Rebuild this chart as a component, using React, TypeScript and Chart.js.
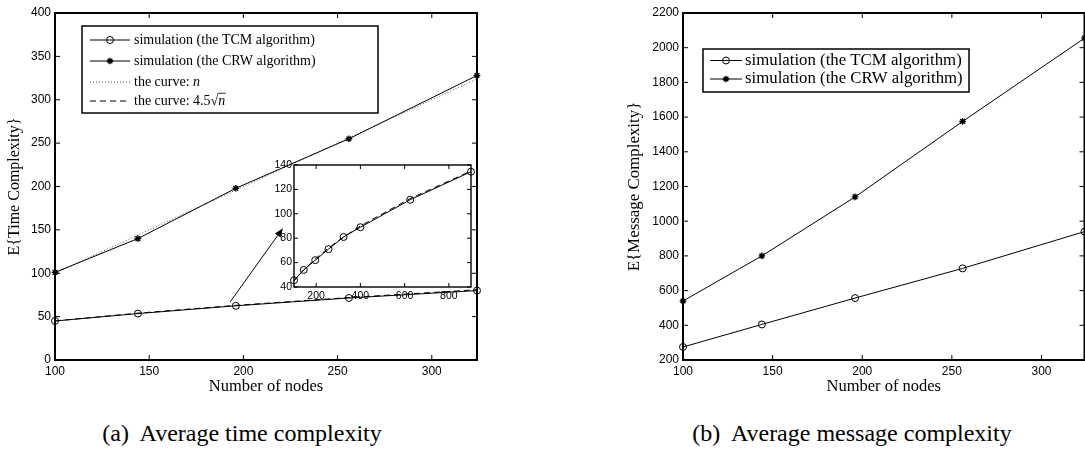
import React, { useEffect, useRef } from 'react';
import { Chart, registerables } from 'chart.js';

Chart.register(...registerables);

// ---------- data ----------
const NODES = [100, 144, 196, 256, 324];
const TIME_TCM = [45, 53.5, 62.5, 71.5, 80];
const TIME_CRW = [101, 140, 198, 255, 328];
const CURVE_N = [100, 144, 196, 256, 324];
const CURVE_SQRT = [45, 54, 63, 72, 81];

const INSET_NODES = [100, 144, 196, 256, 324, 400, 625, 900];
const INSET_TCM = [45.5, 54, 62, 71, 81, 89, 111.5, 134.5];
const INSET_SQRT = [45, 54, 63, 72, 81, 90, 112.5, 135];

const MSG_TCM = [275, 405, 557, 728, 940];
const MSG_CRW = [540, 800, 1140, 1575, 2055];

const X_TICKS = [100, 150, 200, 250, 300];
const TIME_Y_TICKS = [0, 50, 100, 150, 200, 250, 300, 350, 400];
const MSG_Y_TICKS = [200, 400, 600, 800, 1000, 1200, 1400, 1600, 1800, 2000, 2200];
const INSET_X_TICKS = [200, 400, 600, 800];
const INSET_Y_TICKS = [40, 60, 80, 100, 120, 140];

const ARROW_FROM = [193, 67];
const ARROW_TO = [221, 152];

const LABEL_TCM = 'simulation (the TCM algorithm)';
const LABEL_CRW = 'simulation (the CRW algorithm)';

const SERIF = "'Liberation Serif', 'Times New Roman', serif";
const SANS = "'Liberation Sans', Arial, Helvetica, sans-serif";

// ---------- helpers ----------
const pts = (xs: number[], ys: number[]) => xs.map((x, i) => ({ x, y: ys[i] }));

function drawMarker(ctx: CanvasRenderingContext2D, style: string, x: number, y: number, r: number, lw: number) {
  ctx.save();
  ctx.strokeStyle = '#000';
  ctx.lineWidth = lw;
  ctx.beginPath();
  if (style === 'circle') {
    ctx.arc(x, y, r, 0, Math.PI * 2);
  } else {
    for (let k = 0; k < 4; k++) {
      const a = (k * Math.PI) / 4;
      const dx = r * Math.cos(a);
      const dy = r * Math.sin(a);
      ctx.moveTo(x - dx, y - dy);
      ctx.lineTo(x + dx, y + dy);
    }
  }
  ctx.stroke();
  ctx.restore();
}

const framePlugin = {
  id: 'frame',
  beforeDraw(chart: any, _a: any, o: any) {
    if (o && o.fill) {
      const { left, top, right, bottom } = chart.chartArea;
      const ctx = chart.ctx;
      ctx.save();
      ctx.fillStyle = '#fff';
      ctx.fillRect(left, top, right - left, bottom - top);
      ctx.restore();
    }
  },
  afterDraw(chart: any, _a: any, o: any) {
    const { left, top, right, bottom } = chart.chartArea;
    const ctx = chart.ctx;
    const len = (o && o.tickLen) || 5;
    ctx.save();
    ctx.strokeStyle = '#000';
    ctx.lineWidth = 1;
    const xs = chart.scales.x;
    const ys = chart.scales.y;
    ctx.beginPath();
    xs.ticks.forEach((t: any) => {
      const p = xs.getPixelForValue(t.value);
      ctx.moveTo(p, bottom);
      ctx.lineTo(p, bottom - len);
      ctx.moveTo(p, top);
      ctx.lineTo(p, top + len);
    });
    ys.ticks.forEach((t: any) => {
      const p = ys.getPixelForValue(t.value);
      ctx.moveTo(left, p);
      ctx.lineTo(left + len, p);
      ctx.moveTo(right, p);
      ctx.lineTo(right - len, p);
    });
    ctx.stroke();
    ctx.lineWidth = (o && o.lineWidth) || 1.5;
    ctx.strokeRect(left, top, right - left, bottom - top);
    ctx.restore();
  },
};

const boxLegendPlugin = {
  id: 'boxLegend',
  afterDraw(chart: any, _a: any, o: any) {
    if (!o || !o.items) return;
    const ctx: CanvasRenderingContext2D = chart.ctx;
    ctx.save();
    const [bx, by, bw, bh] = o.box;
    ctx.fillStyle = '#fff';
    ctx.fillRect(bx, by, bw, bh);
    ctx.strokeStyle = '#000';
    ctx.lineWidth = o.lineWidth || 1.5;
    ctx.strokeRect(bx, by, bw, bh);
    o.items.forEach((it: any, i: number) => {
      const ds = chart.data.datasets[it.ds];
      const y = o.rows[i];
      ctx.save();
      ctx.strokeStyle = ds.borderColor;
      ctx.lineWidth = ds.borderWidth;
      ctx.setLineDash(ds.borderDash || []);
      ctx.beginPath();
      ctx.moveTo(o.sample[0], y);
      ctx.lineTo(o.sample[1], y);
      ctx.stroke();
      ctx.restore();
      if (ds.pointRadius > 0) {
        drawMarker(ctx, ds.pointStyle, (o.sample[0] + o.sample[1]) / 2, y, ds.pointRadius, ds.pointBorderWidth);
      }
      const parts = it.parts || [{ t: ds.label }];
      let tx = o.textX;
      ctx.fillStyle = '#000';
      ctx.textBaseline = 'middle';
      ctx.textAlign = 'left';
      parts.forEach((p: any) => {
        ctx.font = `${p.italic ? 'italic ' : ''}${o.size}px ${SERIF}`;
        ctx.fillText(p.t, tx, y);
        const w = ctx.measureText(p.t).width;
        if (p.overline) {
          ctx.save();
          ctx.strokeStyle = '#000';
          ctx.lineWidth = 0.8;
          ctx.beginPath();
          ctx.moveTo(tx - 1, y - o.size * 0.55);
          ctx.lineTo(tx + w + 0.5, y - o.size * 0.55);
          ctx.stroke();
          ctx.restore();
        }
        tx += w;
      });
    });
    ctx.restore();
  },
};

const arrowPlugin = {
  id: 'arrow',
  afterDatasetsDraw(chart: any, _a: any, o: any) {
    if (!o || !o.from) return;
    const ctx: CanvasRenderingContext2D = chart.ctx;
    const xs = chart.scales.x;
    const ys = chart.scales.y;
    const x0 = xs.getPixelForValue(o.from[0]);
    const y0 = ys.getPixelForValue(o.from[1]);
    const x1 = xs.getPixelForValue(o.to[0]);
    const y1 = ys.getPixelForValue(o.to[1]);
    const ang = Math.atan2(y1 - y0, x1 - x0);
    const hl = 9;
    const hw = 3.5;
    ctx.save();
    ctx.strokeStyle = '#000';
    ctx.fillStyle = '#000';
    ctx.lineWidth = 1;
    ctx.beginPath();
    ctx.moveTo(x0, y0);
    ctx.lineTo(x1 - hl * Math.cos(ang), y1 - hl * Math.sin(ang));
    ctx.stroke();
    ctx.beginPath();
    ctx.moveTo(x1, y1);
    ctx.lineTo(x1 - hl * Math.cos(ang) + hw * Math.sin(ang), y1 - hl * Math.sin(ang) - hw * Math.cos(ang));
    ctx.lineTo(x1 - hl * Math.cos(ang) - hw * Math.sin(ang), y1 - hl * Math.sin(ang) + hw * Math.cos(ang));
    ctx.closePath();
    ctx.fill();
    ctx.restore();
  },
};

function axis(o: {
  min: number;
  max: number;
  ticks: number[];
  fit: number;
  horizontal: boolean;
  fontSize: number;
  pad: number;
  title?: string;
  titleSize?: number;
  titlePad?: number;
}) {
  const a: any = {
    type: 'linear',
    min: o.min,
    max: o.max,
    afterBuildTicks: (s: any) => {
      s.ticks = o.ticks.map((v) => ({ value: v }));
    },
    afterFit: (s: any) => {
      if (o.horizontal) s.height = o.fit;
      else s.width = o.fit;
    },
    grid: { display: false, drawTicks: false },
    border: { display: false },
    ticks: {
      color: '#000',
      font: { family: SANS, size: o.fontSize },
      padding: o.pad,
      autoSkip: false,
      maxRotation: 0,
      callback: (v: any) => String(v),
    },
    title: { display: false },
  };
  if (o.title) {
    a.title = {
      display: true,
      text: o.title,
      color: '#000',
      font: { family: SERIF, size: o.titleSize },
      padding: o.horizontal ? { top: 0, bottom: o.titlePad } : { top: o.titlePad, bottom: 0 },
    };
  }
  return a;
}

const lineDs = (label: string, data: any[], style: string | false, extra: any = {}) => ({
  label,
  data,
  borderColor: '#000',
  borderWidth: 1,
  pointStyle: style || 'circle',
  pointRadius: style ? (style === 'star' ? 3.3 : 3.5) : 0,
  pointBorderColor: '#000',
  pointBackgroundColor: 'rgba(0,0,0,0)',
  pointBorderWidth: style === 'star' ? 1.4 : 1,
  fill: false,
  tension: 0,
  clip: false,
  ...extra,
});

function baseOptions(padding: any, scales: any, plugins: any) {
  return {
    responsive: false,
    animation: false as const,
    events: [],
    layout: { padding },
    scales,
    plugins: {
      legend: { display: false },
      tooltip: { enabled: false },
      ...plugins,
    },
  };
}

export default function App() {
  const leftRef = useRef<HTMLCanvasElement>(null);
  const insetRef = useRef<HTMLCanvasElement>(null);
  const rightRef = useRef<HTMLCanvasElement>(null);

  useEffect(() => {
    const left = new Chart(leftRef.current as HTMLCanvasElement, {
      type: 'line',
      data: {
        datasets: [
          lineDs(LABEL_TCM, pts(NODES, TIME_TCM), 'circle'),
          lineDs(LABEL_CRW, pts(NODES, TIME_CRW), 'star'),
          lineDs('the curve: n', pts(NODES, CURVE_N), false, { borderColor: '#555', borderDash: [1, 2] }),
          lineDs('the curve: 4.5√n', pts(NODES, CURVE_SQRT), false, { borderDash: [6, 4] }),
        ] as any,
      },
      options: baseOptions(
        { left: 0, top: 13, right: 63, bottom: 0 },
        {
          x: axis({ min: 100, max: 324, ticks: X_TICKS, fit: 40, horizontal: true, fontSize: 12, pad: 4, title: 'Number of nodes', titleSize: 16.5, titlePad: 3.2 }),
          y: axis({ min: 0, max: 400, ticks: TIME_Y_TICKS, fit: 55, horizontal: false, fontSize: 12, pad: 4, title: 'E{Time Complexity}', titleSize: 16, titlePad: 5.4 }),
        },
        {
          frame: { tickLen: 5, lineWidth: 2 },
          arrow: { from: ARROW_FROM, to: ARROW_TO },
          boxLegend: {
            box: [82, 26, 296, 87],
            rows: [40, 61, 82, 101],
            sample: [90, 130],
            textX: 134,
            size: 14,
            lineWidth: 1.5,
            items: [
              { ds: 0 },
              { ds: 1 },
              { ds: 2, parts: [{ t: 'the curve: ' }, { t: 'n', italic: true }] },
              { ds: 3, parts: [{ t: 'the curve: 4.5' }, { t: '√' }, { t: 'n', italic: true, overline: true }] },
            ],
          },
        }
      ) as any,
      plugins: [framePlugin, arrowPlugin, boxLegendPlugin],
    });

    const inset = new Chart(insetRef.current as HTMLCanvasElement, {
      type: 'line',
      data: {
        datasets: [
          lineDs(LABEL_TCM, pts(INSET_NODES, INSET_TCM), 'circle'),
          lineDs('the curve: 4.5√n', pts(INSET_NODES, INSET_SQRT), false, { borderDash: [6, 4] }),
        ] as any,
      },
      options: baseOptions(
        { left: 0, top: 10, right: 7, bottom: 0 },
        {
          x: axis({ min: 100, max: 900, ticks: INSET_X_TICKS, fit: 18, horizontal: true, fontSize: 10.5, pad: 3 }),
          y: axis({ min: 40, max: 140, ticks: INSET_Y_TICKS, fit: 32, horizontal: false, fontSize: 10.5, pad: 2 }),
        },
        { frame: { tickLen: 4, lineWidth: 1.4, fill: true } }
      ) as any,
      plugins: [framePlugin],
    });

    const right = new Chart(rightRef.current as HTMLCanvasElement, {
      type: 'line',
      data: {
        datasets: [
          lineDs(LABEL_TCM, pts(NODES, MSG_TCM), 'circle'),
          lineDs(LABEL_CRW, pts(NODES, MSG_CRW), 'star'),
        ] as any,
      },
      options: baseOptions(
        { left: 0, top: 13, right: 5.5, bottom: 0 },
        {
          x: axis({ min: 100, max: 324, ticks: X_TICKS, fit: 40, horizontal: true, fontSize: 12, pad: 4, title: 'Number of nodes', titleSize: 16.5, titlePad: 3.2 }),
          y: axis({ min: 200, max: 2200, ticks: MSG_Y_TICKS, fit: 83, horizontal: false, fontSize: 12, pad: 4, title: 'E{Message Complexity}', titleSize: 16.9, titlePad: 24.9 }),
        },
        {
          frame: { tickLen: 5, lineWidth: 2 },
          boxLegend: {
            box: [103, 49, 266, 43],
            rows: [60.5, 79],
            sample: [110, 142],
            textX: 145,
            size: 16.8,
            lineWidth: 1.5,
            items: [{ ds: 0 }, { ds: 1 }],
          },
        }
      ) as any,
      plugins: [framePlugin, boxLegendPlugin],
    });

    return () => {
      left.destroy();
      inset.destroy();
      right.destroy();
    };
  }, []);

  const caption: React.CSSProperties = {
    position: 'absolute',
    top: 421,
    width: 400,
    textAlign: 'center',
    fontFamily: SERIF,
    fontSize: 24,
    lineHeight: '24px',
    whiteSpace: 'pre',
    color: '#000',
  };

  return (
    <div style={{ position: 'fixed', left: 0, top: 0, width: 1085, height: 449, overflow: 'hidden', background: '#fff' }}>
      <canvas ref={leftRef} width={540} height={400} style={{ position: 'absolute', left: 0, top: 0 }} />
      <canvas ref={rightRef} width={490} height={400} style={{ position: 'absolute', left: 600, top: 0 }} />
      <canvas ref={insetRef} width={216} height={150} style={{ position: 'absolute', left: 262, top: 155 }} />
      <div style={{ ...caption, left: 42 }}>{'(a)  Average time complexity'}</div>
      <div style={{ ...caption, left: 652 }}>{'(b)  Average message complexity'}</div>
    </div>
  );
}
